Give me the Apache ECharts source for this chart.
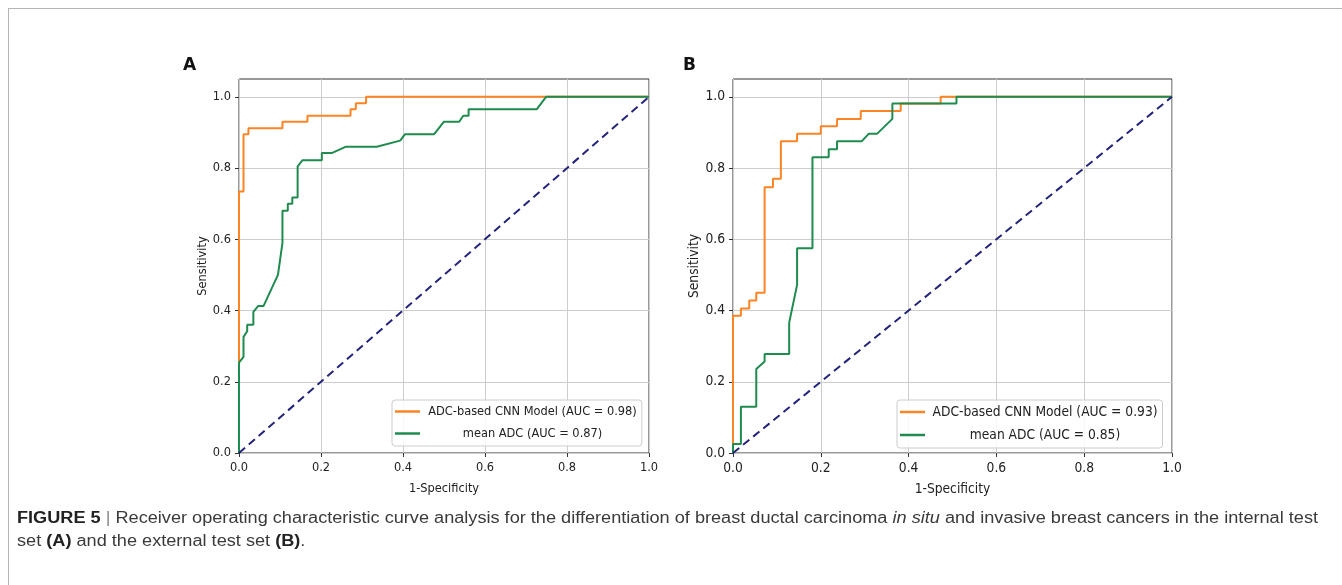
<!DOCTYPE html>
<html>
<head>
<meta charset="utf-8">
<script src="https://cdn.jsdelivr.net/npm/echarts@6/dist/echarts.min.js"></script>
<style>
  html, body { margin: 0; padding: 0; background: #fff; }
  #frame {
    position: absolute; left: 8px; top: 8px; width: 1334px; height: 577px;
    border-top: 1px solid #b4b4b4; border-left: 1px solid #b4b4b4;
  }
  #chart { position: absolute; left: 0; top: 0; width: 1342px; height: 585px; }
  #caption {
    position: absolute; left: 17px; top: 506px;
    font-family: 'Liberation Sans', Arial, sans-serif; font-size: 16px; line-height: 23px;
    color: #3a3a3a; white-space: nowrap; transform-origin: 0 0;
  }
  #caption b { color: #222; }
  #caption .bar { color: #888; }
</style>
</head>
<body>
<div id="frame"></div>
<div id="chart"></div>
<div id="caption"><span id="line1"><b>FIGURE 5</b> <span class="bar">|</span> Receiver operating characteristic curve analysis for the differentiation of breast ductal carcinoma <i>in situ</i> and invasive breast cancers in the internal test</span><br>set <b>(A)</b> and the external test set <b>(B)</b>.</div>

<script>
// tick values shared by both panels
const xTicks = [0, 0.2, 0.4, 0.6, 0.8, 1.0]
const yTicks = [0, 0.2, 0.4, 0.6, 0.8, 1.0]

// reference line
const chance = [[0, 0], [1, 1]]

// panel A: internal test set (fpr, tpr)
const namesA = ['ADC-based CNN Model (AUC = 0.98)', 'mean ADC (AUC = 0.87)']
const cnnA = [
  [0, 0], [0, 0.734], [0.011, 0.734], [0.011, 0.895], [0.023, 0.895], [0.023, 0.912],
  [0.106, 0.912], [0.106, 0.930], [0.167, 0.930], [0.167, 0.947], [0.272, 0.947],
  [0.272, 0.965], [0.285, 0.965], [0.285, 0.982], [0.31, 0.982], [0.31, 1], [1, 1]
]
const adcA = [
  [0, 0], [0, 0.254], [0.011, 0.27], [0.011, 0.326], [0.02, 0.342], [0.02, 0.36],
  [0.035, 0.36], [0.035, 0.396], [0.047, 0.413], [0.06, 0.413], [0.095, 0.5],
  [0.106, 0.59], [0.106, 0.68], [0.119, 0.68], [0.119, 0.7], [0.13, 0.7], [0.13, 0.717],
  [0.143, 0.717], [0.143, 0.805], [0.155, 0.822], [0.202, 0.822], [0.202, 0.842],
  [0.226, 0.842], [0.261, 0.86], [0.336, 0.86], [0.393, 0.877], [0.405, 0.895],
  [0.476, 0.895], [0.5, 0.93], [0.537, 0.93], [0.547, 0.947], [0.56, 0.947],
  [0.56, 0.965], [0.726, 0.965], [0.749, 1], [1, 1]
]

// panel B: external test set (fpr, tpr)
const namesB = ['ADC-based CNN Model (AUC = 0.93)', 'mean ADC (AUC = 0.85)']
const cnnB = [
  [0, 0], [0, 0.385], [0.018, 0.385], [0.018, 0.406], [0.037, 0.406], [0.037, 0.428],
  [0.053, 0.428], [0.053, 0.45], [0.072, 0.45], [0.072, 0.746], [0.091, 0.746],
  [0.091, 0.77], [0.109, 0.77], [0.109, 0.875], [0.146, 0.875], [0.146, 0.896],
  [0.2, 0.896], [0.2, 0.917], [0.237, 0.917], [0.237, 0.938], [0.291, 0.938],
  [0.291, 0.96], [0.382, 0.96], [0.382, 0.981], [0.473, 0.981], [0.473, 1], [1, 1]
]
const adcB = [
  [0, 0], [0, 0.025], [0.018, 0.025], [0.018, 0.13], [0.053, 0.13], [0.053, 0.236],
  [0.072, 0.257], [0.072, 0.278], [0.128, 0.278], [0.128, 0.366], [0.146, 0.472],
  [0.146, 0.575], [0.181, 0.575], [0.181, 0.83], [0.218, 0.83], [0.218, 0.853],
  [0.237, 0.853], [0.237, 0.875], [0.293, 0.875], [0.309, 0.896], [0.328, 0.896],
  [0.363, 0.938], [0.363, 0.981], [0.509, 0.981], [0.509, 1], [1, 1]
]

const ORANGE = '#fd8424'
const GREEN = '#1f8b4e'
const NAVY = '#23237c'
const FONT = "'DejaVu Sans Condensed', 'DejaVu Sans', sans-serif"

function xAxisFor(gridIndex, fontSize) {
  return {
    type: 'value', gridIndex, min: 0, max: 1, interval: 0.2,
    name: '1-Specificity', nameLocation: 'middle', nameGap: 29,
    nameTextStyle: { fontFamily: FONT, fontSize, color: '#222' },
    axisLine: { show: false },
    axisTick: { show: true, length: 4, customValues: xTicks, lineStyle: { color: '#333' } },
    axisLabel: {
      customValues: xTicks, margin: 8, fontFamily: FONT, fontSize, color: '#222',
      formatter: (v) => v.toFixed(1)
    },
    splitLine: { show: true, lineStyle: { color: '#cdcdcd', width: 1 } }
  }
}

function yAxisFor(gridIndex, fontSize, nameGap) {
  return {
    type: 'value', gridIndex, min: 0, max: 1.05, interval: 0.2,
    name: 'Sensitivity', nameLocation: 'middle', nameGap,
    nameTextStyle: { fontFamily: FONT, fontSize, color: '#222' },
    axisLine: { show: false },
    axisTick: { show: true, length: 4, customValues: yTicks, lineStyle: { color: '#333' } },
    axisLabel: {
      customValues: yTicks, margin: 8, fontFamily: FONT, fontSize, color: '#222',
      formatter: (v) => v.toFixed(1)
    },
    splitLine: { show: true, lineStyle: { color: '#cdcdcd', width: 1 } }
  }
}

function legendFor(names, left, textWidth, fontSize) {
  return {
    orient: 'vertical', left, top: 400,
    data: names.map((n) => ({ name: n, icon: 'rect' })),
    itemWidth: 25, itemHeight: 2.5, itemGap: 9,
    padding: [5, 5, 6, 3],
    backgroundColor: 'rgba(255,255,255,0.85)',
    borderColor: '#cccccc', borderWidth: 1, borderRadius: 3,
    formatter: (name) => '{t|' + name + '}',
    textStyle: {
      padding: [0, 0, 0, 3],
      rich: { t: { width: textWidth, align: 'center', fontFamily: FONT, fontSize, color: '#222' } }
    }
  }
}

function lineSeries(name, data, color, idx) {
  return {
    name, type: 'line', data, xAxisIndex: idx, yAxisIndex: idx,
    showSymbol: false, symbol: 'none',
    lineStyle: { color, width: 2 }, itemStyle: { color }
  }
}

function chanceSeries(idx) {
  return {
    type: 'line', data: chance, xAxisIndex: idx, yAxisIndex: idx,
    showSymbol: false, symbol: 'none', silent: true,
    lineStyle: { color: NAVY, width: 2, type: [8, 5] }
  }
}

const chart = echarts.init(document.getElementById('chart'), null, { renderer: 'canvas' })
chart.setOption({
  animation: false,
  title: [
    { text: 'A', left: 183, top: 57, padding: 0, textStyle: { fontFamily: 'DejaVu Sans', fontSize: 17, fontWeight: 'bold', color: '#111' } },
    { text: 'B', left: 683, top: 57, padding: 0, textStyle: { fontFamily: 'DejaVu Sans', fontSize: 17, fontWeight: 'bold', color: '#111' } }
  ],
  grid: [
    { left: 239, top: 79, width: 410, height: 374, show: true, borderColor: '#333', borderWidth: 1 },
    { left: 733, top: 79, width: 439, height: 374, show: true, borderColor: '#333', borderWidth: 1 }
  ],
  xAxis: [xAxisFor(0, 12.7), xAxisFor(1, 13.7)],
  yAxis: [yAxisFor(0, 12.7, 29), yAxisFor(1, 13.7, 32)],
  legend: [
    legendFor(namesA, 392, 209, 12.7),
    legendFor(namesB, 897, 224, 13.7)
  ],
  series: [
    lineSeries(namesA[0], cnnA, ORANGE, 0),
    lineSeries(namesA[1], adcA, GREEN, 0),
    chanceSeries(0),
    lineSeries(namesB[0], cnnB, ORANGE, 1),
    lineSeries(namesB[1], adcB, GREEN, 1),
    chanceSeries(1)
  ]
})

// squeeze the caption so the first line spans the same width as in the figure
const cap = document.getElementById('caption')
const w = document.getElementById('line1').getBoundingClientRect().width
cap.style.transform = 'scaleX(' + (1301 / w) + ')'
</script>
</body>
</html>
